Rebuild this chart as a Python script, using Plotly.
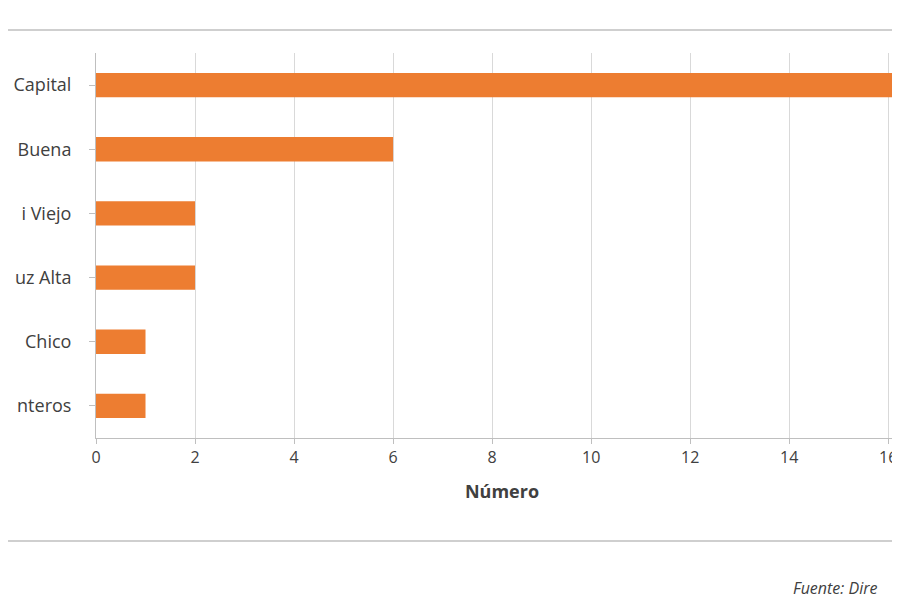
import plotly.graph_objects as go

# labels as visible in the (cropped) reference
categories = ["Capital", "Buena", "i Viejo", "uz Alta", "Chico", "nteros"]
values = [17, 6, 2, 2, 1, 1]
x_ticks = [0, 2, 4, 6, 8, 10, 12, 14, 16]

ORANGE = "#ED7D31"
FONT = "Open Sans, Liberation Sans, sans-serif"

fig = go.Figure(go.Bar(
    x=values, y=categories, orientation="h",
    marker=dict(color=ORANGE, line=dict(width=0)),
    width=0.38, cliponaxis=True,
))

fig.update_layout(
    width=900, height=600,
    margin=dict(l=88, r=0, t=45, b=170),
    paper_bgcolor="white", plot_bgcolor="white",
    showlegend=False,
    font=dict(family=FONT, size=16, color="#404040"),
    xaxis=dict(
        range=[0, 16.4], tickvals=x_ticks, showgrid=True, gridcolor="#D9D9D9", gridwidth=1,
        showline=True, linecolor="#BFBFBF", ticks="outside", ticklen=5, tickcolor="#BFBFBF",
        zeroline=False, tickfont=dict(size=16),
        title=dict(text="<b>Número</b>", font=dict(size=18, color="#404040"), standoff=18),
    ),
    yaxis=dict(
        categoryorder="array", categoryarray=categories[::-1],
        showline=True, linecolor="#BFBFBF", ticks="outside", ticklen=6, tickcolor="#BFBFBF",
        showgrid=False, tickfont=dict(size=18, color="#404040"), ticklabelstandoff=14,
    ),
    shapes=[
        dict(type="line", xref="paper", yref="paper", x0=-0.2, x1=1.1, y0=1.0597, y1=1.0597,
             line=dict(color="#BFBFBF", width=1.5)),
        dict(type="line", xref="paper", yref="paper", x0=-0.2, x1=1.1, y0=-0.2675, y1=-0.2675,
             line=dict(color="#BFBFBF", width=1.5)),
    ],
    annotations=[
        dict(text="<i>Fuente: Dire</i>", xref="paper", yref="paper",
             x=(783 - 88) / 812, y=(430 - 580) / 385, xanchor="left", yanchor="middle",
             showarrow=False, font=dict(size=16, color="#404040")),
    ],
)

fig.write_html("out.html")
